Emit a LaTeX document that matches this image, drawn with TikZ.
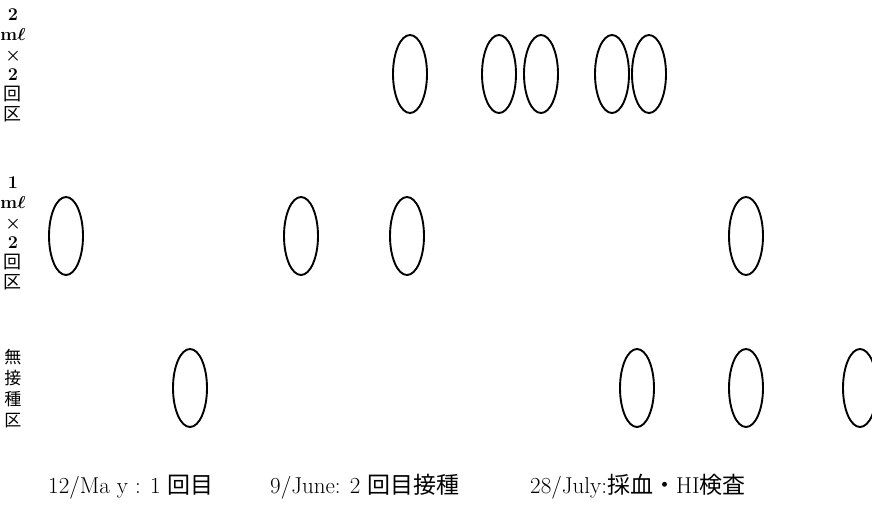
\documentclass[tikz,border=0pt]{standalone}
\usepackage{fontspec}
\usepackage{amsmath}
\usepackage{tikz}
\usetikzlibrary{shapes.geometric}
\newfontfamily\jp{Noto Sans CJK JP}

\begin{document}
\begin{tikzpicture}
      \tikzset{
        egg/.style={draw, ellipse, line width=1.9pt, minimum width=34pt, minimum height=78pt, inner sep=0pt},
        grp/.style={align=center, font=\fontsize{18}{20}\selectfont\bfseries\boldmath, inner sep=0pt},
        day/.style={anchor=west, font=\fontsize{23}{26}\selectfont, inner sep=0pt},
      }
      \useasboundingbox (0pt,0pt) rectangle (872pt,-504pt);
      % 2 ml x 2
      \node [egg] at (410pt,-74pt) (t1) {};
      \node [egg, right of = t1, node distance=89pt] (t2) {};
      \node [egg, right of = t2, node distance=42pt] (t3) {};
      \node [egg, right of = t3, node distance=71pt] (t4) {};
      \node [egg, right of = t4, node distance=37pt] (t5) {};
      % 1 ml x 2
      \node [egg] at (66pt,-236pt) (m1) {};
      \node [egg, right of = m1, node distance=235pt] (m2) {};
      \node [egg, right of = m2, node distance=106pt] (m3) {};
      \node [egg, right of = m3, node distance=339pt] (m4) {};
      % control
      \node [egg] at (190pt,-388pt) (b1) {};
      \node [egg, right of = b1, node distance=447pt] (b2) {};
      \node [egg, right of = b2, node distance=109pt] (b3) {};
      \node [egg, right of = b3, node distance=114pt] (b4) {};

      \node [grp] at (13pt,-65pt) (lab2) {2\\m$\ell$\\$\times$\\2\\{\mdseries\jp 回}\\{\mdseries\jp 区}};
      \node [grp] at (13pt,-233pt) (lab1) {1\\m$\ell$\\$\times$\\2\\{\mdseries\jp 回}\\{\mdseries\jp 区}};
      \node [grp, font=\fontsize{17}{21}\selectfont] at (13pt,-389pt) (lab0) {{\jp 無}\\{\jp 接}\\{\jp 種}\\{\jp 区}};

      \node [day] at (48pt,-487pt) (d1) {12/Ma y : 1 {\jp 回目}};
      \node [day] at (270pt,-487pt) (d2) {9/June: 2 {\jp 回目接種}};
      \node [day] at (530pt,-487pt) (d3) {28/July:{\jp 採血・}HI{\jp 検査}};
      \end{tikzpicture}
\end{document}
